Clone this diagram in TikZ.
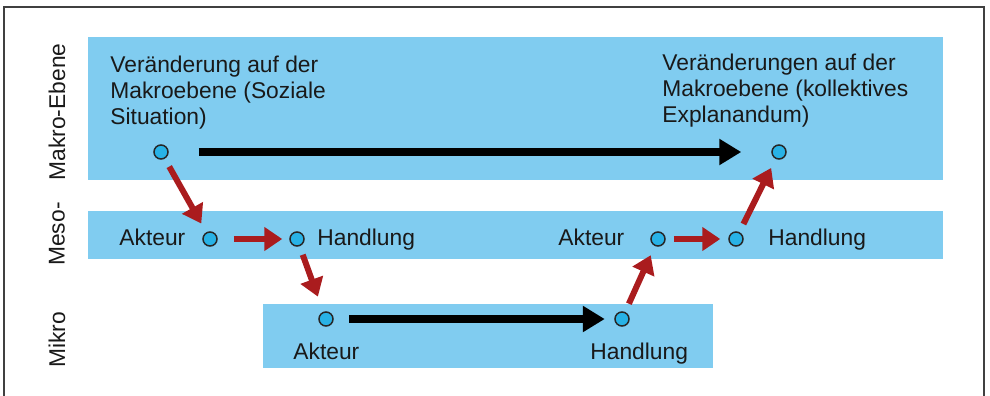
\documentclass[tikz,border=0pt]{standalone}
\usepackage{fontspec}
\setmainfont{Liberation Sans}
\usetikzlibrary{arrows.meta}

\definecolor{bandblue}{RGB}{128,204,240}
\definecolor{dotblue}{RGB}{40,178,230}
\definecolor{arrowred}{RGB}{170,28,30}

\begin{document}
\begin{tikzpicture}[x=0.5pt, y=-0.5pt,
        band/.style={fill=bandblue, draw=none},
        dot/.style={circle, draw=black!85, line width=0.75pt, fill=dotblue, minimum size=7pt, inner sep=0pt},
        lbl/.style={inner sep=0pt, font=\fontsize{11.4}{13}\selectfont, text=black!90},
        level/.style={lbl, rotate=90},
        redarrow/.style={draw=arrowred, line width=3pt, -{Triangle[length=9pt, width=11.5pt]}, shorten <=4.5pt, shorten >=5pt},
        blackarrow/.style={draw=black, line width=4pt, -{Triangle[length=11pt, width=12.5pt]}}]
            \useasboundingbox (0,0) rectangle (990,396);
            \draw [black!75, line width=0.6pt] (4,7) rectangle (984,402);
            % Ebenen
            \fill [band] (88,37) rectangle (943,180);
            \fill [band] (88,211) rectangle (943,259);
            \fill [band] (263,304) rectangle (713,368);
            \node [level] (makro) at (57,112) {Makro-Ebene};
            \node [level] (meso) at (57,234) {Meso-};
            \node [level] (mikro) at (57,340) {Mikro};
            % Punkte
            \node [dot] (sitmac) at (161,152) {};
            \node [dot] (explmac) at (779,152) {};
            \node [dot] (aktmeso) at (210,239) {};
            \node [dot] (handmeso) at (297,239) {};
            \node [dot] (aktmik) at (326,319) {};
            \node [dot] (handmik) at (622,319) {};
            \node [dot] (aktmesob) at (658,239) {};
            \node [dot] (handmesob) at (736,239) {};
            % Texte
            \node [lbl, anchor=north west, align=left] (sittext) at (110,56) {Veränderung auf der\\Makroebene (Soziale\\Situation)};
            \node [lbl, anchor=north west, align=left] (expltext) at (662,54) {Veränderungen auf der\\Makroebene (kollektives\\Explanandum)};
            \node [lbl, anchor=base west] (aktmesotext) at (119,245) {Akteur};
            \node [lbl, anchor=base west] (handmesotext) at (317,245) {Handlung};
            \node [lbl, anchor=base west] (aktmesobtext) at (558,245) {Akteur};
            \node [lbl, anchor=base west] (handmesobtext) at (768,245) {Handlung};
            \node [lbl, anchor=base west] (aktmiktext) at (293,359) {Akteur};
            \node [lbl, anchor=base west] (handmiktext) at (590,359) {Handlung};
            % Pfeile
            \draw [blackarrow, shorten <=15pt, shorten >=15pt] (sitmac) -- (explmac);
            \draw [blackarrow, shorten <=7.75pt, shorten >=4.75pt] (aktmik) -- (handmik);
            \draw [redarrow] (sitmac) -- (aktmeso);
            \draw [redarrow, shorten <=8pt, shorten >=3.5pt] (aktmeso) -- (handmeso);
            \draw [redarrow, shorten >=8pt] (handmeso) -- (aktmik);
            \draw [redarrow] (handmik) -- (aktmesob);
            \draw [redarrow, shorten <=4pt, shorten >=4pt] (aktmesob) -- (handmesob);
            \draw [redarrow] (handmesob) -- (explmac);
        \end{tikzpicture}
\end{document}
